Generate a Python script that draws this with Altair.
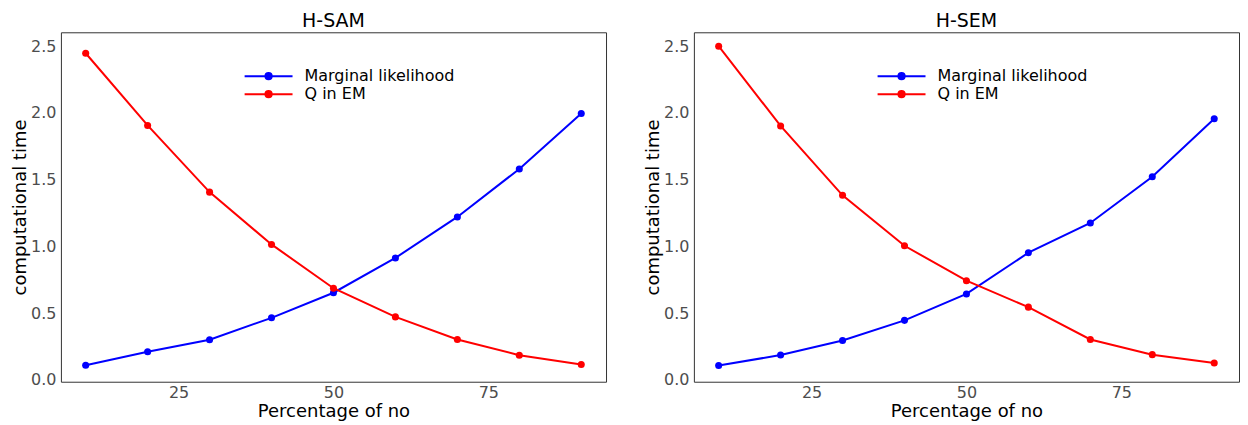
import altair as alt
import pandas as pd

pct = [10, 20, 30, 40, 50, 60, 70, 80, 90]
series_names = ["Marginal likelihood", "Q in EM"]
colors = ["#0000FF", "#FF0000"]

sam_marginal = [0.109, 0.21, 0.30, 0.464, 0.652, 0.913, 1.22, 1.58, 1.995]
sam_q = [2.447, 1.906, 1.406, 1.014, 0.686, 0.471, 0.302, 0.184, 0.114]
sem_marginal = [0.106, 0.185, 0.294, 0.445, 0.643, 0.952, 1.175, 1.521, 1.956]
sem_q = [2.50, 1.902, 1.382, 1.004, 0.742, 0.544, 0.302, 0.188, 0.126]

y_ticks = [0.0, 0.5, 1.0, 1.5, 2.0, 2.5]
x_ticks = [25, 50, 75]

FONT = "DejaVu Sans"
LEG_PATH = "M-1,0H1M-0.13,0A0.13,0.13,0,1,0,0.13,0A0.13,0.13,0,1,0,-0.13,0Z"


def make_df(a, b):
    rows = []
    for name, vals in zip(series_names, [a, b]):
        for x, v in zip(pct, vals):
            rows.append({"pct": x, "time": v, "series": name})
    return pd.DataFrame(rows)


def panel(title, a, b):
    df = make_df(a, b)
    x = alt.X("pct:Q", scale=alt.Scale(domain=[6, 94], nice=False, zero=False),
              axis=alt.Axis(values=x_ticks, title="Percentage of no", grid=False,
                            ticks=False, domain=False, labelFontSize=16,
                            labelColor="#4d4d4d", labelPadding=3, titleFontSize=18,
                            titleFontWeight="normal", titleColor="black",
                            titlePadding=2, labelFont=FONT, titleFont=FONT))
    y = alt.Y("time:Q", scale=alt.Scale(domain=[-0.015, 2.604], nice=False, zero=False),
              axis=alt.Axis(values=y_ticks, format=".1f", title="computational time",
                            grid=False, ticks=False, domain=False, labelFontSize=16,
                            labelColor="#4d4d4d", labelPadding=5, titleFontSize=18,
                            titleFontWeight="normal", titleColor="black",
                            titlePadding=1, labelFont=FONT, titleFont=FONT))
    color = alt.Color("series:N",
                      scale=alt.Scale(domain=series_names, range=colors),
                      sort=series_names,
                      legend=alt.Legend(title=None, orient="none", legendX=183, legendY=35,
                                        symbolType=LEG_PATH, symbolSize=2304,
                                        symbolStrokeWidth=2, clipHeight=18,
                                        labelFontSize=16, labelFont=FONT, labelLimit=400,
                                        labelColor="black", labelOffset=11,
                                        padding=0, rowPadding=0))
    base = alt.Chart(df).encode(x=x, y=y, color=color)
    lines = base.mark_line(strokeWidth=2)
    pts = base.mark_point(filled=True, size=50, opacity=1)
    return alt.layer(lines, pts).properties(
        width=546, height=350,
        title=alt.TitleParams(title, fontSize=19, font=FONT, fontWeight="normal",
                              color="black", offset=1, anchor="middle"))


chart = alt.hconcat(
    panel("H-SAM", sam_marginal, sam_q),
    panel("H-SEM", sem_marginal, sem_q),
    spacing=37,
).resolve_scale(color="independent").resolve_legend(color="independent").configure(
    background="white", padding={"left": 3, "top": 3, "right": 0, "bottom": 0}
).configure_view(
    stroke="#333333", strokeWidth=1
)

chart.save("out.html", embed_options={"renderer": "svg", "actions": False})
